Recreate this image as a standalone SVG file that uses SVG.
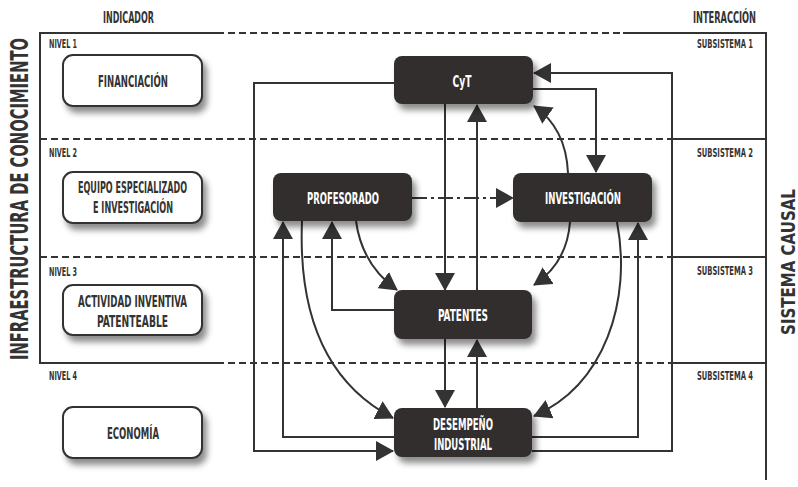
<svg xmlns="http://www.w3.org/2000/svg" width="798" height="487" viewBox="0 0 798 487">
<defs>
<style>
.t{font-family:"Liberation Sans Narrow","DejaVu Sans Condensed","Liberation Sans",sans-serif;font-weight:bold;fill:#333;}
.w{fill:#fff;}
.m{text-anchor:middle;}
.frame{stroke:#333;stroke-width:2;fill:none;}
.dash{stroke:#333;stroke-width:2;fill:none;stroke-dasharray:7 4;}
.dk{fill:#302e2f;}
.lt{fill:#fff;stroke:#333;stroke-width:2;}
.c{stroke:#333;stroke-width:2;fill:none;}
.dd{stroke-dasharray:15 4 3 4;}
</style>
<filter id="sh" x="-20%" y="-30%" width="150%" height="180%">
<feDropShadow dx="4" dy="6" stdDeviation="3" flood-color="#000" flood-opacity="0.45"/>
</filter>
<marker id="ar" viewBox="0 0 18 20" refX="17" refY="10" markerWidth="18" markerHeight="20" markerUnits="userSpaceOnUse" orient="auto">
<path d="M0,0 L18,10 L0,20 Z" fill="#333"/>
</marker>
</defs>
<rect width="798" height="487" fill="#fff"/>

<g id="frame">
<path class="frame" d="M217,33 H40 V363 H217"/>
<path class="frame" d="M623,33 H766 V480"/>
<path class="dash" d="M217,33 H623"/>
<path class="dash" d="M40,139 H672"/>
<path class="dash" d="M40,257 H672"/>
<path class="dash" d="M217,363 H672"/>
<path class="frame" d="M672,139 H766 M672,257 H766 M672,363 H766"/>
</g>

<g id="headers">
<text class="t m" x="128.5" y="23" font-size="15.5" textLength="51" lengthAdjust="spacingAndGlyphs">INDICADOR</text>
<text class="t m" transform="translate(724.5,23) scale(0.6,1)" font-size="15.5" textLength="105" lengthAdjust="spacingAndGlyphs">INTERACCIÓN</text>
<text class="t" x="49" y="48" font-size="11.5" textLength="28" lengthAdjust="spacingAndGlyphs">NIVEL 1</text>
<text class="t" x="49" y="157" font-size="11.5" textLength="28" lengthAdjust="spacingAndGlyphs">NIVEL 2</text>
<text class="t" x="49" y="276" font-size="11.5" textLength="28" lengthAdjust="spacingAndGlyphs">NIVEL 3</text>
<text class="t" x="49" y="380" font-size="11.5" textLength="28" lengthAdjust="spacingAndGlyphs">NIVEL 4</text>
<text class="t" x="697" y="48" font-size="11.5" textLength="56" lengthAdjust="spacingAndGlyphs">SUBSISTEMA 1</text>
<text class="t" x="697" y="157" font-size="11.5" textLength="56" lengthAdjust="spacingAndGlyphs">SUBSISTEMA 2</text>
<text class="t" x="697" y="275" font-size="11.5" textLength="56" lengthAdjust="spacingAndGlyphs">SUBSISTEMA 3</text>
<text class="t" x="697" y="380" font-size="11.5" textLength="56" lengthAdjust="spacingAndGlyphs">SUBSISTEMA 4</text>
<text class="t m" transform="translate(28,199) rotate(-90) scale(0.7,1)" font-size="25" textLength="460" lengthAdjust="spacingAndGlyphs">INFRAESTRUCTURA DE CONOCIMIENTO</text>
<text class="t m" transform="translate(795,262) rotate(-90) scale(0.9,1)" font-size="19" textLength="162" lengthAdjust="spacingAndGlyphs">SISTEMA CAUSAL</text>
</g>

<g id="connectors">
<path class="c" d="M445,104 V290" marker-end="url(#ar)"/>
<path class="c" d="M477,290 V105" marker-end="url(#ar)"/>
<path class="c" d="M533,89 H596 V172" marker-end="url(#ar)"/>
<path class="c" d="M568,173 Q566,128 534,106" marker-end="url(#ar)"/>
<path class="c dd" d="M412,198 H513" marker-end="url(#ar)"/>
<path class="c" d="M570,222 Q567,263 534,285" marker-end="url(#ar)"/>
<path class="c" d="M617,222 C632,300 605,385 534,416" marker-end="url(#ar)"/>
<path class="c" d="M532,437 H638 V223" marker-end="url(#ar)"/>
<path class="c" d="M532,451 H672 V73 H534" marker-end="url(#ar)"/>
<path class="c" d="M394,83 H254 V451 H393" marker-end="url(#ar)"/>
<path class="c" d="M394,437 H283 V222" marker-end="url(#ar)"/>
<path class="c" d="M302,221 C298,320 330,385 393,418" marker-end="url(#ar)"/>
<path class="c" d="M394,310 H332 V222" marker-end="url(#ar)"/>
<path class="c" d="M356,221 Q362,265 397,290" marker-end="url(#ar)"/>
<path class="c" d="M445,339 V407" marker-end="url(#ar)"/>
<path class="c" d="M477,408 V340" marker-end="url(#ar)"/>
</g>

<g id="financiacion">
<rect class="lt" x="63" y="55" width="139" height="51" rx="10" filter="url(#sh)"/>
<text class="t m" x="133" y="87" font-size="16.5" textLength="70" lengthAdjust="spacingAndGlyphs">FINANCIACIÓN</text>
</g>
<g id="equipo">
<rect class="lt" x="63" y="172" width="139" height="51" rx="10" filter="url(#sh)"/>
<text class="t m" x="132.5" y="193" font-size="15" textLength="109" lengthAdjust="spacingAndGlyphs">EQUIPO ESPECIALIZADO</text>
<text class="t m" x="133" y="213" font-size="15" textLength="80" lengthAdjust="spacingAndGlyphs">E INVESTIGACIÓN</text>
</g>
<g id="actividad">
<rect class="lt" x="63" y="285" width="139" height="50" rx="10" filter="url(#sh)"/>
<text class="t m" x="132.5" y="307" font-size="15" textLength="109" lengthAdjust="spacingAndGlyphs">ACTIVIDAD INVENTIVA</text>
<text class="t m" x="132.5" y="327" font-size="15" textLength="71" lengthAdjust="spacingAndGlyphs">PATENTEABLE</text>
</g>
<g id="economia">
<rect class="lt" x="63" y="407" width="139" height="51" rx="10" filter="url(#sh)"/>
<text class="t m" x="133" y="439" font-size="16.5" textLength="52" lengthAdjust="spacingAndGlyphs">ECONOMÍA</text>
</g>

<g id="cyt">
<rect class="dk" x="394" y="56" width="139" height="48" rx="8" filter="url(#sh)"/>
<text class="t w m" x="462" y="87" font-size="15.5" textLength="19" lengthAdjust="spacingAndGlyphs">CyT</text>
</g>
<g id="profesorado">
<rect class="dk" x="273" y="173" width="139" height="48" rx="8" filter="url(#sh)"/>
<text class="t w m" x="343" y="204" font-size="15.5" textLength="72" lengthAdjust="spacingAndGlyphs">PROFESORADO</text>
</g>
<g id="investigacion">
<rect class="dk" x="513" y="173" width="139" height="49" rx="8" filter="url(#sh)"/>
<text class="t w m" x="583" y="204" font-size="15.5" textLength="76" lengthAdjust="spacingAndGlyphs">INVESTIGACIÓN</text>
</g>
<g id="patentes">
<rect class="dk" x="394" y="290" width="138" height="49" rx="8" filter="url(#sh)"/>
<text class="t w m" x="463" y="321" font-size="16" textLength="50" lengthAdjust="spacingAndGlyphs">PATENTES</text>
</g>
<g id="desempeno">
<rect class="dk" x="394" y="408" width="138" height="49" rx="8" filter="url(#sh)"/>
<text class="t w m" x="463" y="430" font-size="15.5" textLength="60" lengthAdjust="spacingAndGlyphs">DESEMPEÑO</text>
<text class="t w m" x="463" y="450" font-size="15.5" textLength="58" lengthAdjust="spacingAndGlyphs">INDUSTRIAL</text>
</g>
</svg>
